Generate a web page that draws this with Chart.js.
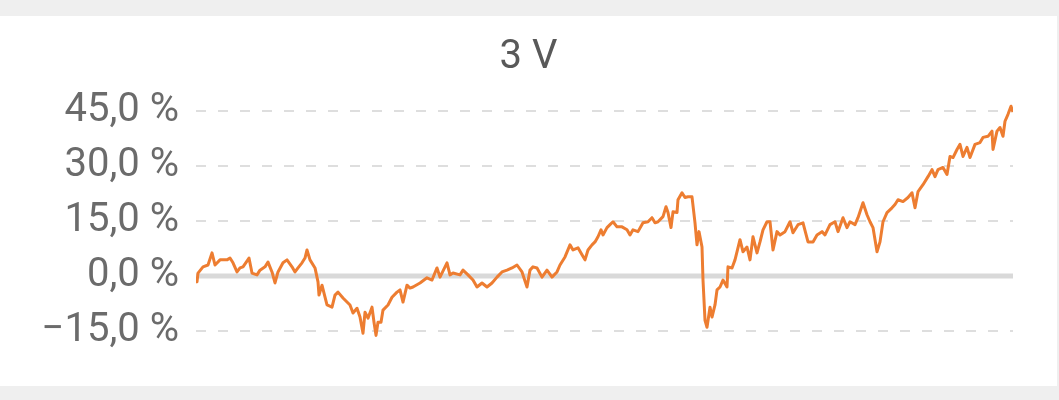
<!DOCTYPE html>
<html>
<head>
<meta charset="utf-8">
<script src="https://cdn.jsdelivr.net/npm/chart.js@4"></script>
<style>
  html, body { margin: 0; padding: 0; background: #efefef; }
  #panel { position: absolute; left: 0; top: 16px; width: 1057px; height: 370px; background: #fff; }
</style>
</head>
<body>
<div id="panel"><canvas id="chart" width="1057" height="370"></canvas></div>
<script>
const TITLE = "3 V";

// trading day index since start of the 3 year window
const tradingDay = [
  0, 1, 2, 7, 12, 16, 19, 24, 31, 34, 37, 41, 44, 47, 53, 56, 61, 64, 69, 72,
  76, 79, 82, 87, 91, 96, 99, 102, 106, 109, 111, 114, 119, 122, 123, 126, 128, 131, 136, 139,
  142, 147, 151, 154, 157, 161, 164, 167, 169, 172, 176, 178, 180, 182, 185, 187, 192, 196, 201, 204,
  207, 211,
  214, 217, 224, 231, 236, 241, 244, 251, 254, 257, 264, 267, 272, 277, 281, 286, 291, 296, 301, 306,
  311, 316, 321, 326, 331, 334, 337, 341, 346, 351, 356, 361, 364, 369, 374, 377, 382, 386, 389, 392,
  396, 399, 402,
  405, 407, 411, 414, 417, 421, 426, 431, 434, 437, 442, 447, 452, 456, 459, 462, 467, 470, 472, 475,
  477, 481, 482, 486, 489, 492, 496, 499, 501, 503, 506, 507, 509, 511, 514, 516, 519, 521, 524, 527,
  531, 532, 536, 539, 544, 547, 551, 554, 557, 561, 564, 567, 571, 574, 577, 581, 584, 589, 594, 597,
  602, 607, 612, 617,
  621, 626, 629, 634, 639, 642, 647, 651, 654, 659, 662, 667, 671, 674, 677, 681, 684, 687, 691, 696,
  699, 702, 707, 712, 716, 719, 722, 727, 732, 736, 739, 742, 747, 751, 754, 757, 761, 764, 767, 771,
  774, 779, 784, 787, 792, 796, 797, 801, 804, 807, 809, 812, 815, 817
];

// cumulative return in percent
const returnPct = [
  -0.3, -1.6, 0.8, 2.5, 3.0, 6.3, 3.0, 4.4, 4.4, 4.9, 3.6, 1.1, 2.2, 2.5, 4.9, 0.8, 0.3, 1.6, 2.5, 3.8,
  1.1, -1.9, 1.1, 3.6, 4.4, 2.5, 1.1, 2.2, 3.6, 4.9, 7.1, 4.4, 2.2, -1.6, -5.2, -2.5, -4.7, -7.9, -8.5, -5.2,
  -4.4, -6.0, -7.1, -7.9, -10.1, -8.8, -11.2, -15.6, -9.9, -11.5, -8.5, -12.6, -16.2, -12.6, -12.6, -9.3, -7.9, -5.8, -4.4, -3.8,
  -7.1, -2.5,
  -3.3, -3.0, -1.9, -0.5, -1.1, 2.2, -0.3, 3.6, 0.3, 0.8, 0.3, 1.6, 0.3, -1.1, -3.0, -1.9, -3.0, -1.9, -0.3, 1.1,
  1.6, 2.2, 3.0, 1.1, -3.0, 1.6, 2.5, 2.2, -0.3, 1.6, -0.3, 1.1, 3.0, 5.2, 8.5, 7.1, 7.7, 5.8, 4.4, 7.1,
  8.5, 9.3, 10.7,
  12.6, 11.2, 13.2, 14.0, 14.8, 13.4, 13.4, 12.6, 11.2, 12.6, 12.1, 14.5, 14.8, 15.9, 14.5, 14.8, 16.2, 18.9, 17.3, 13.2,
  17.5, 17.3, 20.8, 22.7, 21.4, 21.6, 21.6, 14.5, 8.5, 12.1, 7.9, -1.1, -12.1, -14.0, -8.5, -11.2, -7.9, -3.8, -3.0, -1.1,
  -3.0, 2.5, 2.2, 4.4, 9.9, 6.6, 7.9, 4.4, 10.7, 6.3, 9.3, 12.6, 14.8, 14.8, 7.1, 12.1, 11.2, 12.1, 14.8, 11.8,
  14.0, 14.5, 9.3, 9.3,
  11.2, 12.1, 11.2, 14.0, 14.8, 12.1, 15.9, 13.2, 14.8, 14.0, 15.9, 20.0, 16.7, 14.8, 13.2, 6.6, 9.3, 14.8, 17.3, 18.6,
  19.5, 20.8, 20.3, 21.4, 22.7, 18.6, 23.0, 24.9, 27.1, 29.0, 27.1, 29.0, 29.6, 27.7, 32.6, 32.3, 34.5, 35.9, 32.6, 35.1,
  32.3, 35.9, 36.4, 37.8, 38.1, 39.5, 34.5, 39.5, 40.5, 38.1, 42.2, 44.1, 46.3, 44.7
];

const yTicks = [-15, 0, 15, 30, 45];

function formatPct(v) {
  const s = Math.abs(v).toFixed(1).replace(".", ",") + " %";
  return v < 0 ? "\u2212" + s : s;
}

// solid gray line at 0 %, under the series
const zeroLine = {
  id: "zeroLine",
  beforeDatasetsDraw(chart) {
    const { ctx, chartArea, scales } = chart;
    const y = scales.y.getPixelForValue(0);
    ctx.save();
    ctx.strokeStyle = "#d9d9d9";
    ctx.lineWidth = 5;
    ctx.beginPath();
    ctx.moveTo(chartArea.left, y);
    ctx.lineTo(chartArea.right, y);
    ctx.stroke();
    ctx.restore();
  },
};

const points = tradingDay.map((d, i) => ({ x: d, y: returnPct[i] }));

new Chart(document.getElementById("chart"), {
  type: "line",
  data: {
    datasets: [
      {
        data: points,
        borderColor: "#ed7d31",
        borderWidth: 3,
        pointRadius: 0,
        tension: 0,
        borderJoinStyle: "round",
      },
    ],
  },
  options: {
    responsive: false,
    animation: false,
    // symmetric side padding keeps the title centred on the canvas
    layout: { padding: { left: 44, right: 44, top: 0, bottom: 44 } },
    scales: {
      x: {
        type: "linear",
        min: 0,
        max: tradingDay[tradingDay.length - 1],
        display: false,
      },
      y: {
        min: -18,
        max: 48,
        afterBuildTicks: (scale) => {
          scale.ticks = yTicks.map((v) => ({ value: v }));
        },
        afterFit: (scale) => {
          scale.width = 152;
        },
        grid: {
          color: (ctx) => (ctx.tick && ctx.tick.value === 0 ? "rgba(0,0,0,0)" : "#dedede"),
          lineWidth: 2,
          drawTicks: false,
        },
        border: { display: false, dash: [10, 12] },
        ticks: {
          padding: 17,
          color: "#6b6b6b",
          font: { family: "Roboto", size: 40 },
          callback: (v) => formatPct(v),
        },
      },
    },
    plugins: {
      legend: { display: false },
      tooltip: { enabled: false },
      title: {
        display: true,
        text: TITLE,
        color: "#595959",
        font: { family: "Roboto", size: 40, weight: "normal" },
        padding: { top: 18, bottom: 18 },
      },
    },
  },
  plugins: [zeroLine],
});
</script>
</body>
</html>
